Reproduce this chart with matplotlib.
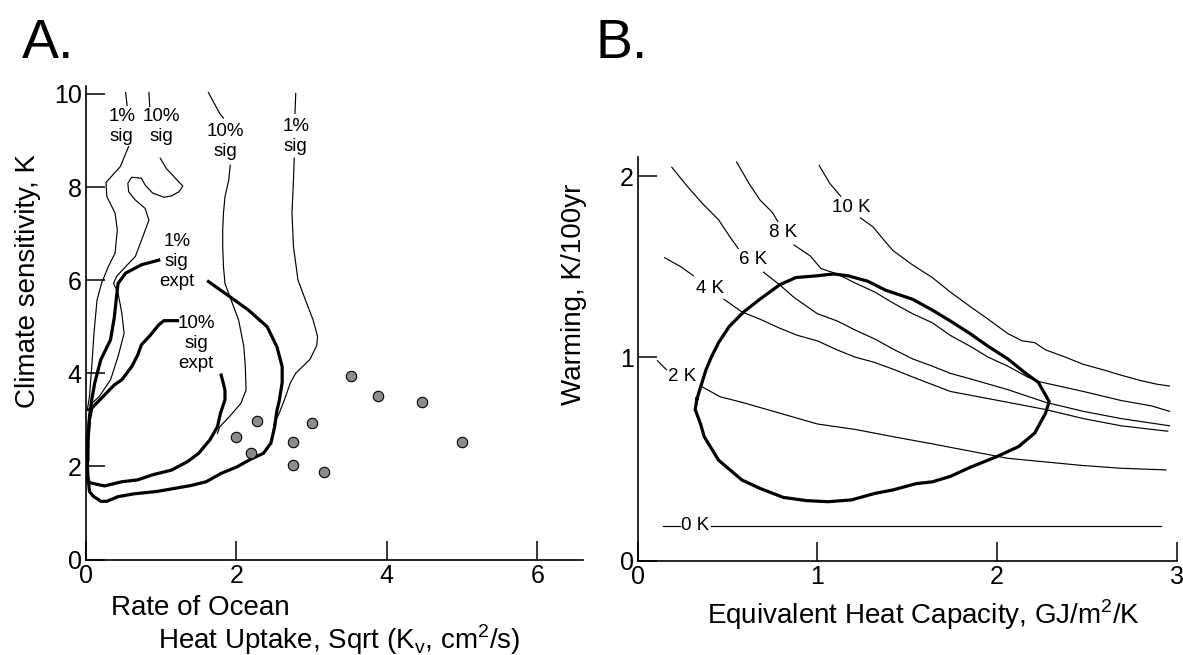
import numpy as np
import matplotlib
matplotlib.use("Agg")
import matplotlib.pyplot as plt

plt.rcParams["font.family"] = ["Liberation Sans", "DejaVu Sans"]
plt.rcParams["mathtext.fontset"] = "custom"
plt.rcParams["mathtext.rm"] = "Liberation Sans"

nan = np.nan

# ---- panel A: significance contours (thin), experiment contours (thick), models (dots)
sig1_left_x = [0.53, 0.55, nan, 0.57, 0.46, 0.27, 0.28, 0.39, 0.42, 0.39, 0.30, 0.21, 0.15, 0.11, 0.08, 0.05, 0.02]
sig1_left_y = [10.03, 9.75, nan, 8.87, 8.44, 8.10, 7.80, 7.44, 7.08, 6.58, 6.29, 5.93, 5.57, 4.86, 4.14, 3.50, 3.20]

sig10_left_x = [0.84, 0.85, nan, 0.99, 1.07, 1.19, 1.29, 1.24, 1.14, 1.04, 0.89, 0.79, 0.74, 0.61, 0.56, 0.57, 0.66,
                0.79, 0.84, 0.76, 0.66, 0.53, 0.41, 0.37, 0.43, 0.48, 0.51, 0.43, 0.33, 0.18, 0.08, 0.03]
sig10_left_y = [10.03, 9.73, nan, 8.62, 8.40, 8.19, 8.02, 7.90, 7.81, 7.78, 7.87, 8.04, 8.19, 8.21, 8.08, 7.90, 7.72,
                7.54, 7.29, 6.94, 6.51, 6.29, 6.08, 5.93, 5.72, 5.29, 4.86, 4.36, 3.86, 3.50, 3.35, 3.20]

sig10_mid_x = [1.63, 1.78, 1.83, nan, 1.92, 1.90, 1.85, 1.83, 1.82, 1.82, 1.83, 1.85, 1.93, 2.03, 2.10, 2.12,
               2.13, 2.06, 1.91, 1.78, 1.75]
sig10_mid_y = [10.03, 9.58, 9.48, nan, 8.47, 8.15, 7.79, 7.44, 7.08, 6.72, 6.29, 5.93, 5.58, 5.15, 4.58, 4.15,
               3.64, 3.35, 3.07, 2.85, 2.71]

sig1_right_x = [2.79, 2.78, nan, 2.77, 2.76, 2.74, 2.76, 2.82, 2.92, 3.02, 3.08, 3.07, 2.98, 2.79, 2.72, 2.64,
                2.57, 2.50]
sig1_right_y = [10.01, 9.58, nan, 8.62, 8.15, 7.44, 6.72, 6.00, 5.57, 5.15, 4.79, 4.60, 4.30, 4.00, 3.80, 3.43,
                3.14, 2.90]

expt1_x = [1.63, 1.91, 2.16, 2.41, 2.54, 2.61, 2.61, 2.57, 2.54, 2.51, 2.46, 2.36, 2.21, 2.01, 1.80, 1.60, 1.40,
           1.19, 0.94, 0.64, 0.43, 0.28, 0.20, 0.10, 0.05, 0.03, 0.02, 0.03, 0.05, 0.08, 0.12, 0.20, 0.33, 0.38,
           0.41, 0.43, 0.53, 0.74, 0.97]
expt1_y = [5.97, 5.65, 5.36, 5.00, 4.57, 4.14, 3.80, 3.40, 3.20, 2.85, 2.50, 2.28, 2.17, 1.99, 1.85, 1.67, 1.59,
           1.53, 1.46, 1.41, 1.35, 1.25, 1.25, 1.36, 1.46, 1.78, 2.14, 2.57, 3.07, 3.43, 3.79, 4.29, 4.72, 5.20,
           5.65, 5.93, 6.15, 6.33, 6.43]

expt10_x = [1.22, 1.04, 0.97, 0.86, 0.74, 0.69, 0.61, 0.48, 0.38, 0.23, 0.08, 0.05, 0.03, 0.03, 0.00, 0.05, 0.25,
            0.48, 0.69, 0.89, 1.14, 1.35, 1.50, 1.65, 1.75, 1.79, 1.85, 1.85, 1.80]
expt10_y = [5.13, 5.13, 5.04, 4.82, 4.61, 4.39, 4.14, 3.86, 3.75, 3.50, 3.25, 3.00, 2.57, 2.14, 1.85, 1.65, 1.58,
            1.67, 1.71, 1.82, 1.92, 2.10, 2.28, 2.57, 2.85, 3.14, 3.43, 3.64, 3.96]

model_x = [3.53, 3.88, 4.47, 2.27, 3.00, 2.00, 2.75, 2.20, 5.00, 2.75, 3.17]
model_y = [3.94, 3.52, 3.39, 2.98, 2.94, 2.64, 2.53, 2.29, 2.53, 2.02, 1.87]

a_labels = ["1%\nsig", "10%\nsig", "10%\nsig", "1%\nsig", "1%\nsig\nexpt", "10%\nsig\nexpt"]
a_label_x = [0.48, 1.00, 1.86, 2.79, 1.21, 1.47]
a_label_y = [9.30, 9.30, 8.97, 9.08, 6.40, 4.64]

# ---- panel B: warming vs heat capacity, sensitivity isolines
k10_x = [1.01, 1.07, 1.13, nan, 1.24, 1.31, 1.36, 1.42, 1.53, 1.64, 1.74, 1.85, 1.95, 2.06, 2.14, 2.21, 2.27, 2.38,
         2.48, 2.59, 2.69, 2.80, 2.89, 2.96]
k10_y = [2.06, 1.96, 1.89, nan, 1.77, 1.72, 1.66, 1.59, 1.51, 1.44, 1.36, 1.28, 1.21, 1.13, 1.09, 1.08, 1.04, 1.00,
         0.96, 0.93, 0.90, 0.87, 0.85, 0.84]
k8_x = [0.55, 0.62, 0.68, 0.75, 0.78, nan, 0.87, 0.96, 1.02, 1.11, 1.21, 1.32, 1.42, 1.53, 1.64, 1.74, 1.85, 1.95,
        2.06, 2.17, 2.23, 2.48, 2.69, 2.86, 2.96]
k8_y = [2.08, 1.96, 1.87, 1.80, 1.75, nan, 1.62, 1.56, 1.49, 1.46, 1.41, 1.36, 1.30, 1.24, 1.19, 1.12, 1.06, 1.00,
        0.95, 0.89, 0.865, 0.81, 0.76, 0.73, 0.70]
k6_x = [0.19, 0.28, 0.36, 0.45, 0.51, 0.56, nan, 0.70, 0.79, 0.87, 1.00, 1.11, 1.21, 1.32, 1.43, 1.53, 1.64, 1.74,
        1.85, 2.06, 2.27, 2.48, 2.69, 2.96]
k6_y = [2.05, 1.94, 1.85, 1.76, 1.67, 1.60, nan, 1.47, 1.40, 1.33, 1.24, 1.20, 1.15, 1.10, 1.04, 0.99, 0.95, 0.91,
        0.88, 0.82, 0.75, 0.70, 0.66, 0.62]
k4_x = [0.15, 0.24, 0.31, nan, 0.48, 0.58, 0.68, 0.79, 0.89, 1.00, 1.11, 1.21, 1.32, 1.43, 1.53, 1.74, 2.06, 2.27,
        2.48, 2.69, 2.95]
k4_y = [1.55, 1.50, 1.45, nan, 1.32, 1.25, 1.21, 1.16, 1.12, 1.09, 1.04, 1.00, 0.97, 0.93, 0.89, 0.81, 0.75, 0.71,
        0.66, 0.62, 0.59]
k2_x = [0.11, 0.16, nan, 0.35, 0.46, 0.58, 0.79, 1.00, 1.21, 1.42, 1.64, 1.85, 2.06, 2.27, 2.48, 2.69, 2.94]
k2_y = [0.98, 0.93, nan, 0.84, 0.78, 0.75, 0.69, 0.63, 0.60, 0.56, 0.52, 0.48, 0.44, 0.42, 0.40, 0.385, 0.376]
k0_x = [0.14, 0.235, nan, 0.41, 2.91]
k0_y = [0.066, 0.066, nan, 0.066, 0.066]

obs_x = [0.33, 0.355, 0.38, 0.41, 0.45, 0.51, 0.59, 0.68, 0.79, 0.88, 1.00, 1.09, 1.17, 1.28, 1.38, 1.53, 1.64,
         1.74, 1.85, 1.95, 2.06, 2.16, 2.23, 2.27, 2.29, 2.27, 2.21, 2.12, 2.00, 1.85, 1.74, 1.64, 1.55, 1.42,
         1.32, 1.19, 1.06, 0.94, 0.81, 0.68, 0.58, 0.45, 0.37, 0.35, 0.32, 0.33]
obs_y = [0.77, 0.85, 0.93, 1.00, 1.08, 1.17, 1.25, 1.32, 1.40, 1.44, 1.45, 1.46, 1.45, 1.42, 1.37, 1.32, 1.26,
         1.20, 1.13, 1.06, 0.99, 0.91, 0.86, 0.79, 0.754, 0.69, 0.58, 0.505, 0.45, 0.39, 0.34, 0.31, 0.30, 0.265,
         0.246, 0.21, 0.20, 0.206, 0.224, 0.274, 0.32, 0.43, 0.56, 0.63, 0.71, 0.77]

b_labels = ["10 K", "8 K", "6 K", "4 K", "2 K", "0 K"]
b_label_x = [1.19, 0.81, 0.64, 0.40, 0.245, 0.32]
b_label_y = [1.83, 1.69, 1.54, 1.38, 0.89, 0.066]

W, H = 1183, 655
fig = plt.figure(figsize=(W / 100, H / 100), dpi=100)


def rect(l, t, r, b):
    return [l / W, 1 - b / H, (r - l) / W, (b - t) / H]


def style(ax):
    for s in ("top", "right"):
        ax.spines[s].set_visible(False)
    for s in ("left", "bottom"):
        ax.spines[s].set_linewidth(1.2)
    ax.tick_params(direction="in", length=13.5, width=1.1, labelsize=18, pad=3)


thin = dict(color="black", lw=0.85, solid_joinstyle="round")
thick = dict(color="black", lw=2.3, solid_joinstyle="round")

# panel A
axA = fig.add_axes(rect(85.7, 86, 583.3, 559.5))
style(axA)
axA.set_xlim(0, 6.61); axA.set_ylim(0, 10.17)
axA.set_xticks([0, 2, 4, 6]); axA.set_yticks([0, 2, 4, 6, 8, 10])
for xs, ys in [(sig1_left_x, sig1_left_y), (sig10_left_x, sig10_left_y),
               (sig10_mid_x, sig10_mid_y), (sig1_right_x, sig1_right_y)]:
    axA.plot(xs, ys, **thin)
axA.plot(expt1_x, expt1_y, **thick)
axA.plot(expt10_x, expt10_y, **thick)
axA.plot(model_x, model_y, "o", ms=7.5, mfc="#8c8c8c", mec="black", mew=0.8, clip_on=False)
for t, x, y in zip(a_labels, a_label_x, a_label_y):
    axA.text(x, y, t, ha="center", va="center", fontsize=13.5, linespacing=1.25)

# panel B
axB = fig.add_axes(rect(637.7, 157, 1176.7, 561))
style(axB)
ylo = -0.128
axB.set_xlim(0, 3.0); axB.set_ylim(ylo, 2.107)
axB.set_xticks([0, 1, 2, 3]); axB.set_yticks([ylo, 1, 2]); axB.set_yticklabels(["0", "1", "2"])
for xs, ys in [(k10_x, k10_y), (k8_x, k8_y), (k6_x, k6_y), (k4_x, k4_y), (k2_x, k2_y), (k0_x, k0_y)]:
    axB.plot(xs, ys, **thin)
axB.plot(obs_x, obs_y, **thick)
for t, x, y in zip(b_labels, b_label_x, b_label_y):
    axB.text(x, y, t, ha="center", va="center", fontsize=13.5)

# axis titles and panel letters
fig.text(28 / W, 1 - 281 / H, "Climate sensitivity, K", rotation=90, ha="center", va="center", fontsize=20)
fig.text(110.6 / W, 1 - 608 / H, "Rate of Ocean", ha="left", va="center", fontsize=20)
fig.text(158.4 / W, 1 - 640 / H, r"Heat Uptake, Sqrt (K$_\mathregular{v}$, cm$^\mathregular{2}$/s)",
         ha="left", va="center", fontsize=20)
fig.text(706.7 / W, 1 - 615 / H, r"Equivalent Heat Capacity, GJ/m$^\mathregular{2}$/K", ha="left", va="center",
         fontsize=20)
fig.text(574 / W, 1 - 294 / H, "Warming, K/100yr", rotation=90, ha="center", va="center", fontsize=20)
fig.text(22 / W, 1 - 58 / H, "A.", ha="left", va="baseline", fontsize=40)
fig.text(596 / W, 1 - 58 / H, "B.", ha="left", va="baseline", fontsize=40)

fig.savefig("out.png", dpi=100)
